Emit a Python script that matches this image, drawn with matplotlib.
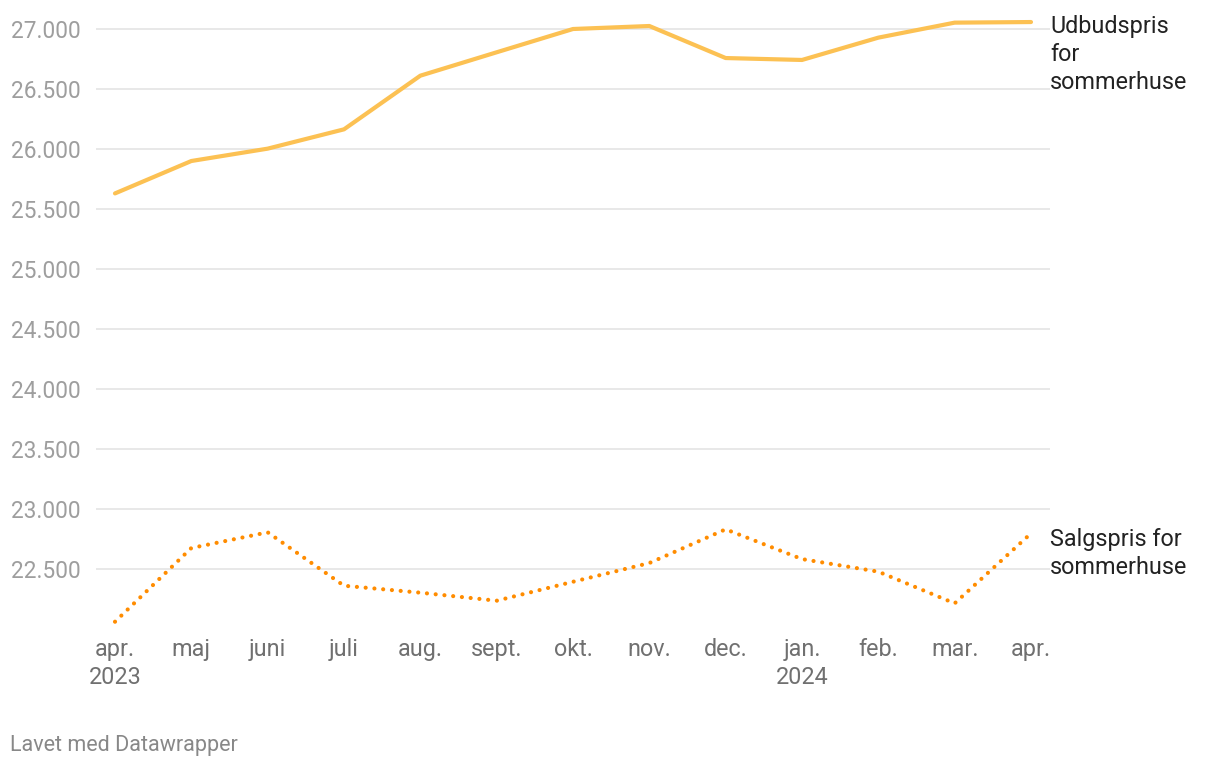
import matplotlib
matplotlib.use("Agg")
import matplotlib.pyplot as plt
import numpy as np

# monthly data, apr 2023 - apr 2024
months = ["apr.\n2023", "maj", "juni", "juli", "aug.", "sept.", "okt.",
          "nov.", "dec.", "jan.\n2024", "feb.", "mar.", "apr."]
udbud = [25630, 25900, 26003, 26164, 26611, 26806, 27000,
         27025, 26758, 26742, 26928, 27053, 27058]
salg = [22061, 22675, 22806, 22361, 22303, 22236, 22394,
        22550, 22831, 22583, 22478, 22214, 22797]
yticks = [22500, 23000, 23500, 24000, 24500, 25000, 25500, 26000, 26500, 27000]
ytick_labels = ["22.500", "23.000", "23.500", "24.000", "24.500",
                "25.000", "25.500", "26.000", "26.500", "27.000"]

plt.rcParams['font.family'] = ['Roboto', 'DejaVu Sans']

W, H = 1220, 768
fig = plt.figure(figsize=(W / 100, H / 100), dpi=100)
# axes placed in pixel terms: gridlines run x=96..1050, y from ~15 to 630
left, right, top, bottom = 96, 1050, 14.6, 630
ax = fig.add_axes([left / W, 1 - bottom / H, (right - left) / W, (bottom - top) / H])

x = np.arange(len(months))
ax.set_xlim(-0.249, 12.249)
ax.set_ylim(21992, 27120)

for v in yticks:
    ax.axhline(v, color="#e2e2e2", lw=1.1, zorder=0)

ax.plot(x, udbud, color="#fcc153", lw=3, solid_capstyle="round", zorder=3)
ax.plot(x, salg, color="#ff8c00", lw=3, linestyle=(0, (0.01, 2.1)),
        dash_capstyle="round", zorder=3)

ax.set_yticks(yticks)
ax.set_yticklabels(ytick_labels, fontsize=16.3, color="#9e9e9e")
ax.set_xticks(x)
ax.set_xticklabels(months, fontsize=16.8, color="#707070", linespacing=1.25)
ax.tick_params(axis="y", length=0, pad=11)
ax.tick_params(axis="x", length=0, pad=6)
for s in ax.spines.values():
    s.set_visible(False)

# direct labels at line ends
ax.annotate("Udbudspris\nfor\nsommerhuse", xy=(1.0, udbud[-1]),
            xycoords=ax.get_yaxis_transform(), xytext=(0, 5), textcoords="offset points",
            ha="left", va="top", fontsize=16.8, color="#222222", linespacing=1.27)
ax.annotate("Salgspris for\nsommerhuse", xy=(1.0, salg[-1]),
            xycoords=ax.get_yaxis_transform(), xytext=(0, 4), textcoords="offset points",
            ha="left", va="top", fontsize=16.8, color="#222222", linespacing=1.27)

fig.text(10 / W, 1 - 745 / H, "Lavet med Datawrapper", ha="left", va="center",
         fontsize=15.5, color="#888888")

fig.savefig("out.png", dpi=100)
